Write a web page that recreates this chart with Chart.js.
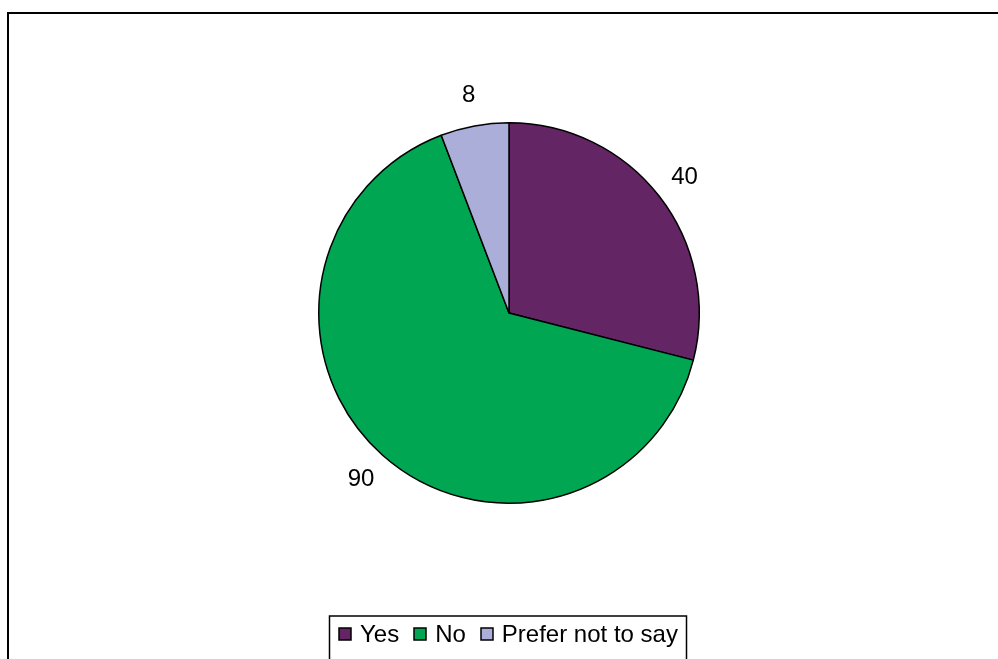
<!DOCTYPE html>
<html>
<head>
<meta charset="utf-8">
<script src="https://cdn.jsdelivr.net/npm/chart.js@4"></script>
<style>
html,body{margin:0;padding:0;background:#fff;}
#wrap{width:998px;height:659px;position:relative;}
</style>
</head>
<body>
<div id="wrap"><canvas id="c" width="998" height="659"></canvas></div>
<script>
const categories = ["Yes", "No", "Prefer not to say"];
const values = [40, 90, 8];
const colors = ["#632563", "#00A651", "#AAAED8"];

const FONT = '24px "Liberation Sans", Arial, sans-serif';

const framePlugin = {
  id: 'frame',
  beforeDraw(chart) {
    const ctx = chart.ctx;
    ctx.save();
    ctx.fillStyle = '#fff';
    ctx.fillRect(0, 0, chart.width, chart.height);
    ctx.strokeStyle = '#000';
    ctx.lineWidth = 2;
    ctx.strokeRect(8, 13, chart.width + 20, chart.height + 20);
    ctx.restore();
  }
};

const labelPlugin = {
  id: 'sliceLabels',
  afterDatasetsDraw(chart) {
    const ctx = chart.ctx;
    const meta = chart.getDatasetMeta(0);
    ctx.save();
    ctx.font = FONT;
    ctx.fillStyle = '#000';
    ctx.textAlign = 'center';
    ctx.textBaseline = 'middle';
    meta.data.forEach((arc, i) => {
      const p = arc.getProps(['x','y','startAngle','endAngle','outerRadius'], true);
      const mid = (p.startAngle + p.endAngle) / 2;
      const r = p.outerRadius + 32;
      ctx.fillText(String(values[i]), p.x + Math.cos(mid) * r, p.y + Math.sin(mid) * r + 1);
    });
    ctx.restore();
  }
};

const legendPlugin = {
  id: 'customLegend',
  afterDraw(chart) {
    const ctx = chart.ctx;
    ctx.save();
    ctx.font = FONT;
    const sq = 12, gapText = 9, gapItem = 15, padL = 10, padR = 8;
    let total = 0;
    const widths = categories.map(t => ctx.measureText(t).width);
    widths.forEach((w, i) => { total += sq + gapText + w + (i < widths.length - 1 ? gapItem : 0); });
    const boxW = total + padL + padR;
    const cx = 507.5;
    const left = Math.round(cx - boxW / 2);
    const top = 616;
    ctx.strokeStyle = '#000';
    ctx.lineWidth = 1.5;
    ctx.strokeRect(left + 0.5, top, Math.round(boxW), 80);
    let x = left + padL;
    const cy = 634;
    categories.forEach((t, i) => {
      ctx.fillStyle = colors[i];
      ctx.fillRect(Math.round(x), cy - 6, sq, sq);
      ctx.strokeStyle = '#000';
      ctx.lineWidth = 1.5;
      ctx.strokeRect(Math.round(x), cy - 6, sq, sq);
      x += sq + gapText;
      ctx.fillStyle = '#000';
      ctx.textBaseline = 'middle';
      ctx.textAlign = 'left';
      ctx.fillText(t, x, cy + 1);
      x += widths[i] + gapItem;
    });
    ctx.restore();
  }
};

new Chart(document.getElementById('c'), {
  type: 'pie',
  data: {
    labels: categories,
    datasets: [{
      data: values,
      backgroundColor: colors,
      borderColor: '#000',
      borderWidth: 1.5
    }]
  },
  options: {
    responsive: false,
    animation: false,
    devicePixelRatio: 1,
    layout: { padding: { left: 318, right: 298, top: 122, bottom: 155 } },
    plugins: {
      legend: { display: false },
      tooltip: { enabled: false },
      title: { display: false }
    }
  },
  plugins: [framePlugin, labelPlugin, legendPlugin]
});
</script>
</body>
</html>
